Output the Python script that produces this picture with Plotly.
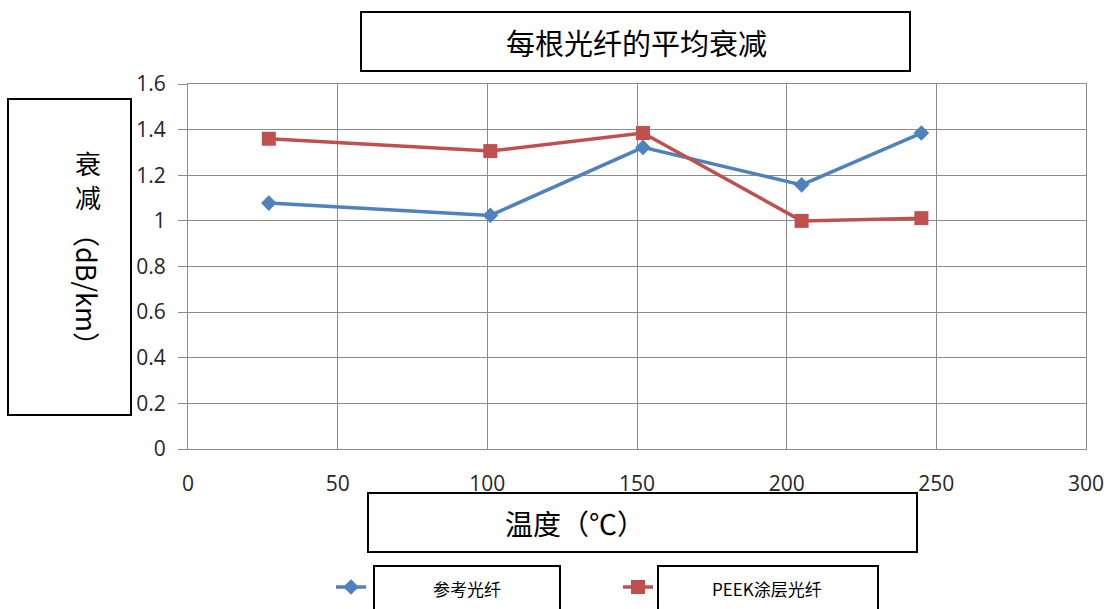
import plotly.graph_objects as go

# ---- data ----
temps_ref = [27, 101, 152, 205, 245]
atten_ref = [1.078, 1.024, 1.322, 1.158, 1.385]
temps_peek = [27, 101, 152, 205, 245]
atten_peek = [1.36, 1.306, 1.385, 1.0, 1.012]

series_names = ["参考光纤", "PEEK涂层光纤"]
title_text = "每根光纤的平均衰减"
xtitle_text = "温度（℃）"
ytitle_cjk = "衰<br>减"
ytitle_unit = "（dB/km）"
y_ticks = [0, 0.2, 0.4, 0.6, 0.8, 1.0, 1.2, 1.4, 1.6]
y_ticktext = ["0", "0.2", "0.4", "0.6", "0.8", "1", "1.2", "1.4", "1.6"]
x_ticks = [0, 50, 100, 150, 200, 250, 300]

W, H = 1110, 609
ML, MR, MT, MB = 188, 24, 84, 160
PW = W - ML - MR
PH = H - MT - MB


def px(x):
    return (x - ML) / PW


def py(y):
    return (H - MB - y) / PH


BLUE = "#4F81BD"
RED = "#C0504D"
GRID = "#8c8c8c"
CJK = "Noto Sans CJK SC"
TICKFONT = dict(family="Open Sans", size=21, color="#262626")

fig = go.Figure()
fig.add_trace(go.Scatter(
    x=temps_ref, y=atten_ref, name=series_names[0], mode="lines+markers",
    line=dict(color=BLUE, width=3.5),
    marker=dict(symbol="diamond", size=12, color=BLUE),
    legend="legend",
))
fig.add_trace(go.Scatter(
    x=temps_peek, y=atten_peek, name=series_names[1], mode="lines+markers",
    line=dict(color=RED, width=3.5),
    marker=dict(symbol="square", size=14, color=RED),
    legend="legend2",
))

shapes = []


def box(x0, y0, x1, y1):
    shapes.append(dict(type="rect", xref="paper", yref="paper",
                       x0=px(x0), x1=px(x1), y0=py(y1), y1=py(y0),
                       line=dict(color="black", width=2),
                       fillcolor="white", layer="above"))


box(361, 12, 910, 71)      # title
box(8, 99, 131, 415)       # y title
box(368, 493, 917, 552)    # x title
box(374, 566, 560, 615)    # legend 1 label
box(658, 566, 878, 615)    # legend 2 label

annotations = [
    dict(text=title_text, x=px(636), y=py(42), xref="paper", yref="paper",
         showarrow=False, xanchor="center", yanchor="middle",
         font=dict(family=CJK, size=29, color="black")),
    dict(text=xtitle_text, x=px(503), y=py(523), xref="paper", yref="paper",
         showarrow=False, xanchor="left", yanchor="middle",
         font=dict(family=CJK, size=28, color="black")),
    dict(text=ytitle_cjk, x=px(88), y=py(179), xref="paper", yref="paper",
         showarrow=False, xanchor="center", yanchor="middle",
         font=dict(family=CJK, size=26, color="black")),
    dict(text=ytitle_unit, x=px(88), y=py(289), xref="paper", yref="paper",
         showarrow=False, xanchor="center", yanchor="middle", textangle=90,
         font=dict(family=CJK, size=27, color="black")),
    dict(text=series_names[0], x=px(467), y=py(588), xref="paper", yref="paper",
         showarrow=False, xanchor="center", yanchor="middle",
         font=dict(family=CJK, size=17, color="black")),
    dict(text=series_names[1], x=px(767), y=py(588), xref="paper", yref="paper",
         showarrow=False, xanchor="center", yanchor="middle",
         font=dict(family=CJK, size=17, color="black")),
]

leg_common = dict(orientation="h", xref="container", yref="container",
                  xanchor="left", yanchor="middle",
                  bgcolor="rgba(0,0,0,0)", borderwidth=0,
                  font=dict(family=CJK, size=1, color="rgba(0,0,0,0)"))

fig.update_layout(
    width=W, height=H,
    margin=dict(l=ML, r=MR, t=MT, b=MB, pad=0, autoexpand=False),
    paper_bgcolor="white", plot_bgcolor="white",
    showlegend=True,
    legend=dict(x=(348 - 17) / W, y=(H - 587) / H, **leg_common),
    legend2=dict(x=(635 - 17) / W, y=(H - 587) / H, **leg_common),
    xaxis=dict(range=[0, 300], tickmode="array", tickvals=x_ticks,
               ticktext=[str(v) for v in x_ticks],
               showgrid=True, gridcolor=GRID, gridwidth=1,
               showline=True, linecolor=GRID, linewidth=1, mirror=True,
               ticks="", tickfont=TICKFONT, ticklabelstandoff=16,
               zeroline=False, fixedrange=True, automargin=False),
    yaxis=dict(range=[0, 1.6], tickmode="array", tickvals=y_ticks,
               ticktext=y_ticktext,
               showgrid=True, gridcolor=GRID, gridwidth=1,
               showline=True, linecolor=GRID, linewidth=1, mirror=True,
               ticks="outside", ticklen=9, tickcolor=GRID,
               tickfont=TICKFONT, ticklabelstandoff=8,
               zeroline=False, fixedrange=True, automargin=False),
    shapes=shapes,
    annotations=annotations,
)

fig.write_html("out.html")
